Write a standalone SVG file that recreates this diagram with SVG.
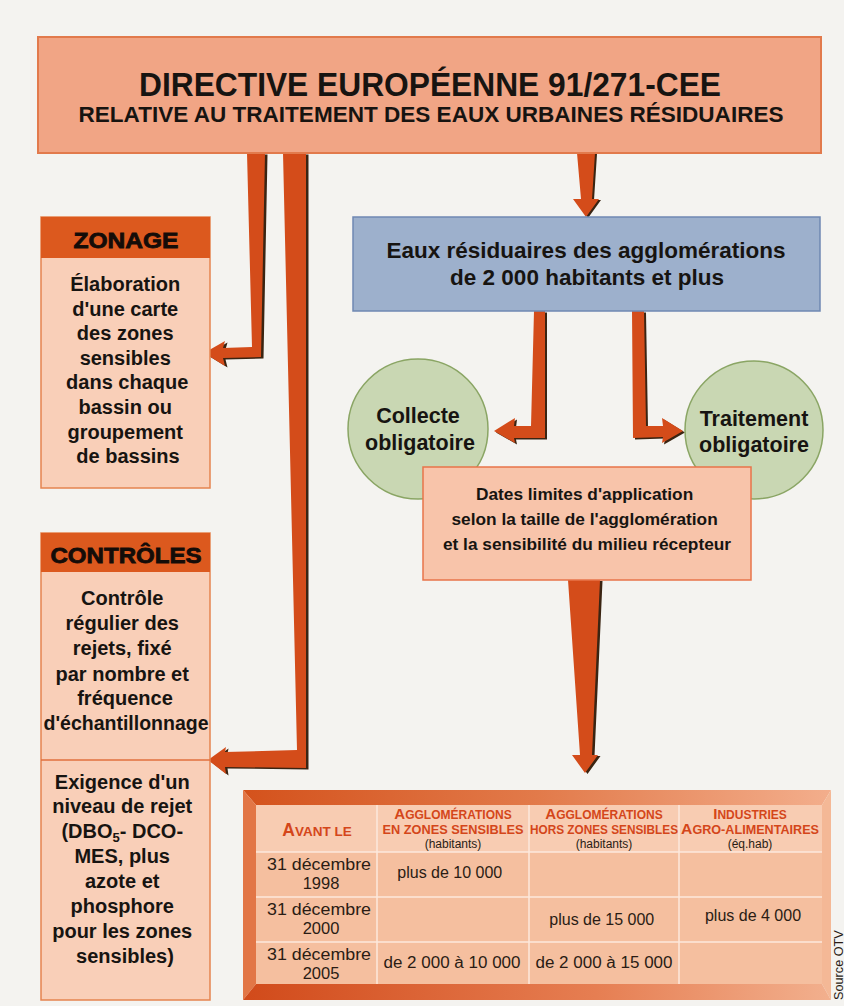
<svg xmlns="http://www.w3.org/2000/svg" width="844" height="1006" viewBox="0 0 844 1006">
<defs>
<style>
.t{font-family:"Liberation Sans",Arial,sans-serif;font-weight:bold;fill:#171411;text-anchor:middle}
.hd{font-family:"Liberation Sans",Arial,sans-serif;font-weight:900;fill:#140c08;stroke:#140c08;stroke-width:0.8;text-anchor:middle}
.sc{font-family:"Liberation Sans",Arial,sans-serif;font-weight:bold;fill:#d4461a;text-anchor:middle}
.tb{font-family:"Liberation Sans",Arial,sans-serif;fill:#2a1c14;text-anchor:middle}
.arr{fill:#d44c1a}
.sh{fill:#3a2412}
.grid{stroke:#fde8dc;stroke-width:1.5;fill:none}
</style>
<linearGradient id="topbev" x1="0" y1="0" x2="1" y2="0">
<stop offset="0" stop-color="#d4521c"/>
<stop offset="0.5" stop-color="#e27a4a"/>
<stop offset="1" stop-color="#f3ae8c"/>
</linearGradient>
<linearGradient id="botbev" x1="0" y1="0" x2="1" y2="0">
<stop offset="0" stop-color="#d14a1a"/>
<stop offset="0.6" stop-color="#e67e52"/>
<stop offset="1" stop-color="#f2b08e"/>
</linearGradient>
</defs>

<rect x="0" y="0" width="844" height="1006" fill="#f4f3f0"/>

<g id="connectors">
<polygon class="sh" transform="translate(2.5,1.5)" points="247,153 265,153 261,357 223,358 225,366 204,353 225,341 223,348 252,347"/>
<polygon class="arr" points="247,153 265,153 261,357 223,358 225,366 204,353 225,341 223,348 252,347"/>
<polygon class="sh" transform="translate(2.5,1.5)" points="283,153 306,153 306,768 225,767 226,774 208,760 226,747 225,752 297,750"/>
<polygon class="arr" points="283,153 306,153 306,768 225,767 226,774 208,760 226,747 225,752 297,750"/>
<polygon class="sh" transform="translate(2,1)" points="577,153 595,153 592,199 599,199 586,217 573,199 581,199"/>
<polygon class="arr" points="577,153 595,153 592,199 599,199 586,217 573,199 581,199"/>
<polygon class="sh" transform="translate(2,1.5)" points="534,311 545,311 545,438 514,438 515,443 494,431 515,418 514,426 531,426"/>
<polygon class="arr" points="534,311 545,311 545,438 514,438 515,443 494,431 515,418 514,426 531,426"/>
<polygon class="sh" transform="translate(2,1.5)" points="632,311 644,311 646,426 663,426 662,418 683,431 662,443 663,437 633,438"/>
<polygon class="arr" points="632,311 644,311 646,426 663,426 662,418 683,431 662,443 663,437 633,438"/>
<polygon class="sh" transform="translate(2.5,1)" points="568,580 600,580 592,755 598,755 585,773 572,755 580,755"/>
<polygon class="arr" points="568,580 600,580 592,755 598,755 585,773 572,755 580,755"/>
</g>

<g id="directive">
<rect x="38" y="37" width="783" height="116" fill="#f1a585" stroke="#e27a4c" stroke-width="2"/>
<text class="t" x="430" y="96" font-size="33" textLength="582" lengthAdjust="spacingAndGlyphs">DIRECTIVE EUROPÉENNE 91/271-CEE</text>
<text class="t" x="431" y="122" font-size="22" textLength="705" lengthAdjust="spacingAndGlyphs">RELATIVE AU TRAITEMENT DES EAUX URBAINES RÉSIDUAIRES</text>
</g>

<g id="zonage">
<rect x="41" y="217" width="169" height="271" fill="#f9cfb8" stroke="#e5844f" stroke-width="1.5"/>
<rect x="41" y="217" width="169" height="41" fill="#dc591e"/>
<text class="hd" x="126" y="248" font-size="22" textLength="105" lengthAdjust="spacingAndGlyphs">ZONAGE</text>
<text class="t" font-size="20">
<tspan x="128" y="291">Élaboration</tspan>
<tspan x="128" y="315.6">d'une carte</tspan>
<tspan x="128" y="340.2">des zones</tspan>
<tspan x="128" y="364.8">sensibles</tspan>
<tspan x="130" y="389.4">dans chaque</tspan>
<tspan x="128" y="414">bassin ou</tspan>
<tspan x="128" y="438.6">groupement</tspan>
<tspan x="128" y="463.2">de bassins</tspan>
</text>
</g>

<g id="controles">
<rect x="41" y="533" width="169" height="467" fill="#f9cfb8" stroke="#e5844f" stroke-width="1.5"/>
<rect x="41" y="533" width="169" height="39" fill="#dc591e"/>
<line x1="41" y1="760" x2="210" y2="760" stroke="#e0703e" stroke-width="1.5"/>
<text class="hd" x="126" y="563" font-size="22" textLength="151" lengthAdjust="spacingAndGlyphs">CONTRÔLES</text>
<text class="t" font-size="20">
<tspan x="125" y="605">Contrôle</tspan>
<tspan x="125" y="630">régulier des</tspan>
<tspan x="125" y="655">rejets, fixé</tspan>
<tspan x="125" y="681">par nombre et</tspan>
<tspan x="125" y="705">fréquence</tspan>
</text>
<text class="t" x="126" y="730" font-size="20" textLength="165" lengthAdjust="spacingAndGlyphs">d'échantillonnage</text>
<text class="t" font-size="20">
<tspan x="125" y="789">Exigence d'un</tspan>
<tspan x="125" y="813">niveau de rejet</tspan>
<tspan x="125" y="838">(DBO<tspan font-size="13" dy="4">5</tspan><tspan dy="-4">- DCO-</tspan></tspan>
<tspan x="125" y="863">MES, plus</tspan>
<tspan x="125" y="888">azote et</tspan>
<tspan x="125" y="913">phosphore</tspan>
<tspan x="125" y="938">pour les zones</tspan>
<tspan x="125" y="963">sensibles)</tspan>
</text>
</g>

<g id="eaux">
<rect x="353" y="217" width="467" height="94" fill="#9db0cc" stroke="#6f88b2" stroke-width="1.5"/>
<text class="t" x="586" y="258" font-size="22.5">Eaux résiduaires des agglomérations</text>
<text class="t" x="587" y="285" font-size="22.5">de 2 000 habitants et plus</text>
</g>

<g id="collecte">
<circle cx="418" cy="429" r="70" fill="#c9d7b3" stroke="#8aa564" stroke-width="1.5"/>
<text class="t" x="418" y="423" font-size="21.5">Collecte</text>
<text class="t" x="420" y="450" font-size="21.5">obligatoire</text>
</g>

<g id="traitement">
<circle cx="754" cy="430" r="69" fill="#c9d7b3" stroke="#8aa564" stroke-width="1.5"/>
<text class="t" x="754" y="426" font-size="21.5">Traitement</text>
<text class="t" x="754" y="452" font-size="21.5">obligatoire</text>
</g>

<g id="dates">
<rect x="423" y="467" width="328" height="113" fill="#f8c4aa" stroke="#e8744a" stroke-width="1.5"/>
<text class="t" font-size="17.3">
<tspan x="587" y="500">Dates limites d'application</tspan>
<tspan x="587" y="525">selon la taille de l'agglomération</tspan>
<tspan x="587" y="550">et la sensibilité du milieu récepteur</tspan>
</text>
</g>

<g id="table">
<polygon points="243,790 831,790 822,805 256,805" fill="url(#topbev)"/>
<polygon points="243,790 256,805 256,984 243,1000" fill="#e27646"/>
<polygon points="831,790 831,1000 822,984 822,805" fill="#f4b896"/>
<polygon points="243,1000 831,1000 822,984 256,984" fill="url(#botbev)"/>
<rect x="256" y="805" width="566" height="47" fill="#f8ccb2"/>
<rect x="256" y="852" width="566" height="132" fill="#f5bf9f"/>
<line class="grid" x1="256" y1="852" x2="822" y2="852"/>
<line class="grid" x1="256" y1="897" x2="822" y2="897"/>
<line class="grid" x1="256" y1="942" x2="822" y2="942"/>
<line class="grid" x1="377" y1="805" x2="377" y2="984"/>
<line class="grid" x1="529" y1="805" x2="529" y2="984"/>
<line class="grid" x1="679" y1="805" x2="679" y2="984"/>

<text class="sc" x="317" y="836"><tspan font-size="17.5">A</tspan><tspan font-size="13.5">VANT LE</tspan></text>
<text class="sc" x="453" y="819"><tspan font-size="15">A</tspan><tspan font-size="12">GGLOMÉRATIONS</tspan></text>
<text class="sc" x="453" y="834" font-size="12" textLength="141" lengthAdjust="spacingAndGlyphs">EN ZONES SENSIBLES</text>
<text class="tb" x="453" y="848" font-size="12">(habitants)</text>
<text class="sc" x="604" y="819"><tspan font-size="15">A</tspan><tspan font-size="12">GGLOMÉRATIONS</tspan></text>
<text class="sc" x="604" y="834" font-size="12" textLength="148" lengthAdjust="spacingAndGlyphs">HORS ZONES SENSIBLES</text>
<text class="tb" x="604" y="848" font-size="12">(habitants)</text>
<text class="sc" x="750" y="819"><tspan font-size="15">I</tspan><tspan font-size="12">NDUSTRIES</tspan></text>
<text class="sc" x="750" y="834" textLength="138" lengthAdjust="spacingAndGlyphs"><tspan font-size="15">A</tspan><tspan font-size="12">GRO-ALIMENTAIRES</tspan></text>
<text class="tb" x="750" y="848" font-size="12">(éq.hab)</text>

<text class="tb" x="319" y="870" font-size="16.5" textLength="104" lengthAdjust="spacingAndGlyphs">31 décembre</text>
<text class="tb" x="321" y="888.5" font-size="16.5">1998</text>
<text class="tb" x="319" y="915" font-size="16.5" textLength="104" lengthAdjust="spacingAndGlyphs">31 décembre</text>
<text class="tb" x="321" y="933.5" font-size="16.5">2000</text>
<text class="tb" x="319" y="960" font-size="16.5" textLength="104" lengthAdjust="spacingAndGlyphs">31 décembre</text>
<text class="tb" x="321" y="978.5" font-size="16.5">2005</text>
<text class="tb" font-size="16">
<tspan x="452" y="878">plus de 10 000</tspan>
<tspan x="604" y="925">plus de 15 000</tspan>
<tspan x="753" y="921">plus de 4 000</tspan>
</text>
<text class="tb" x="452" y="968" font-size="16" textLength="137" lengthAdjust="spacingAndGlyphs">de 2 000 à 10 000</text>
<text class="tb" x="604" y="968" font-size="16" textLength="137" lengthAdjust="spacingAndGlyphs">de 2 000 à 15 000</text>
</g>

<text class="tb" transform="translate(843,1000) rotate(-90)" font-size="12.7" style="text-anchor:start">Source OTV</text>
</svg>
